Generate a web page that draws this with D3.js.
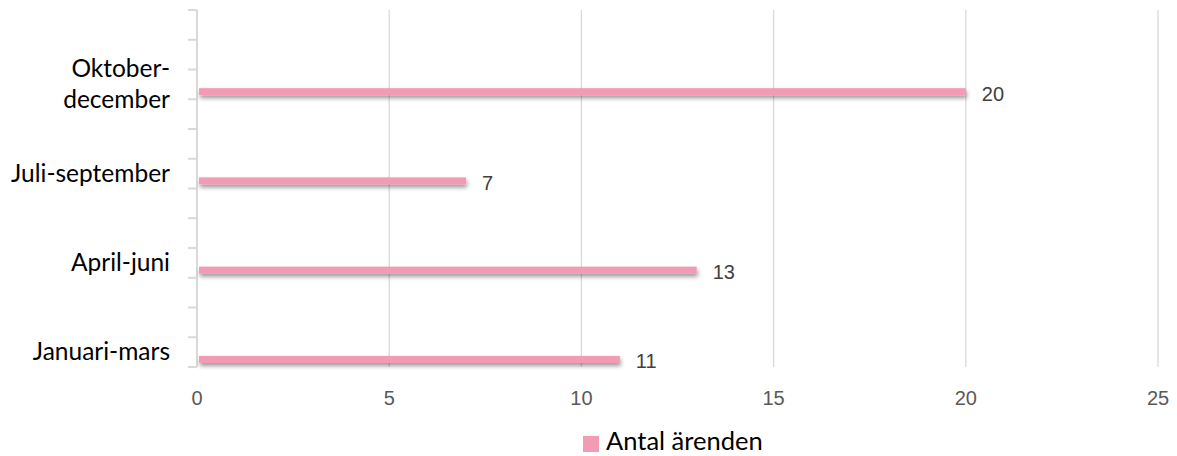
<!doctype html>
<html>
<head>
<meta charset="UTF-8">
<title>Antal ärenden</title>
<script src="https://d3js.org/d3.v7.min.js"></script>
<style>
  body { margin: 0; background: #fff; }
</style>
</head>
<body>
<svg id="chart" width="1177" height="456"></svg>
<script>
  // data
  var categories = ["Oktober-december", "Juli-september", "April-juni", "Januari-mars"];
  var labelLines = [["Oktober-", "december"], ["Juli-september"], ["April-juni"], ["Januari-mars"]];
  var values = [20, 7, 13, 11];
  var xTicks = [0, 5, 10, 15, 20, 25];
  var seriesName = "Antal ärenden";

  var svg = d3.select("#chart");
  var pLeft = 197, pRight = 1158, pTop = 10, pBottom = 367;

  var x = d3.scaleLinear().domain([0, 25]).range([pLeft, pRight]);
  var y = d3.scaleBand().domain(categories).range([pTop, pBottom]);
  var bw = y.bandwidth();

  var defs = svg.append("defs");
  var f = defs.append("filter").attr("id", "shadow")
    .attr("x", "-5%").attr("y", "-60%").attr("width", "110%").attr("height", "280%");
  f.append("feDropShadow").attr("dx", 1).attr("dy", 3)
    .attr("stdDeviation", 2).attr("flood-color", "#000").attr("flood-opacity", 0.4);

  // vertical grid
  svg.selectAll("line.grid").data(xTicks.slice(1)).enter().append("line")
    .attr("class", "grid")
    .attr("x1", function(d){ return x(d); })
    .attr("x2", function(d){ return x(d); })
    .attr("y1", pTop).attr("y2", pBottom)
    .attr("stroke", "#d9d9d9").attr("stroke-width", 1.3);

  // x tick labels
  svg.selectAll("text.xt").data(xTicks).enter().append("text")
    .attr("class", "xt")
    .attr("x", function(d){ return x(d); })
    .attr("y", 405)
    .attr("text-anchor", "middle")
    .attr("font-family", "Liberation Sans, Arial, sans-serif")
    .attr("font-size", 20)
    .attr("fill", "#595959")
    .text(function(d){ return d; });

  // y axis line and minor ticks (3 per category)
  svg.append("line")
    .attr("x1", pLeft).attr("x2", pLeft).attr("y1", pTop).attr("y2", pBottom)
    .attr("stroke", "#d9d9d9").attr("stroke-width", 2);

  var tickPos = [];
  categories.forEach(function(c){
    for (var k = 0; k < 3; k++) tickPos.push(y(c) + bw * k / 3);
  });
  tickPos.push(pBottom);
  svg.selectAll("line.yt").data(tickPos).enter().append("line")
    .attr("class", "yt")
    .attr("x1", pLeft - 9).attr("x2", pLeft)
    .attr("y1", function(d){ return d; }).attr("y2", function(d){ return d; })
    .attr("stroke", "#d9d9d9").attr("stroke-width", 2);

  // category labels
  var lab = svg.selectAll("text.cat").data(categories).enter().append("text")
    .attr("class", "cat")
    .attr("text-anchor", "end")
    .attr("font-family", "Lato, 'Open Sans', sans-serif")
    .attr("font-size", 24.5)
    .attr("fill", "#000");
  lab.each(function(d, i){
    var lines = labelLines[i];
    var cy = y(d) + bw * 0.845;
    var t = d3.select(this);
    lines.forEach(function(s, j){
      t.append("tspan")
        .attr("x", 170)
        .attr("y", cy + 7 + (j - (lines.length - 1) / 2) * 30.5)
        .text(s);
    });
  });

  // bars
  var barH = 7;
  svg.selectAll("rect.bar").data(values).enter().append("rect")
    .attr("class", "bar")
    .attr("x", pLeft + 2)
    .attr("y", function(d, i){ return y(categories[i]) + bw * 0.915 - barH / 2; })
    .attr("width", function(d){ return x(d) - pLeft - 2; })
    .attr("height", barH)
    .attr("fill", "#f39ab4")
    .attr("filter", "url(#shadow)");

  // value labels
  svg.selectAll("text.val").data(values).enter().append("text")
    .attr("class", "val")
    .attr("x", function(d){ return x(d) + 16; })
    .attr("y", function(d, i){ return y(categories[i]) + bw * 0.915 + 9; })
    .attr("font-family", "Liberation Sans, Arial, sans-serif")
    .attr("font-size", 20)
    .attr("fill", "#404040")
    .text(function(d){ return d; });

  // legend
  svg.append("rect")
    .attr("x", 583).attr("y", 436).attr("width", 16).attr("height", 16)
    .attr("fill", "#f39ab4");
  svg.append("text")
    .attr("x", 606).attr("y", 450)
    .attr("font-family", "Lato, 'Open Sans', sans-serif")
    .attr("font-size", 25.5)
    .attr("fill", "#000")
    .text(seriesName);
</script>
</body>
</html>
